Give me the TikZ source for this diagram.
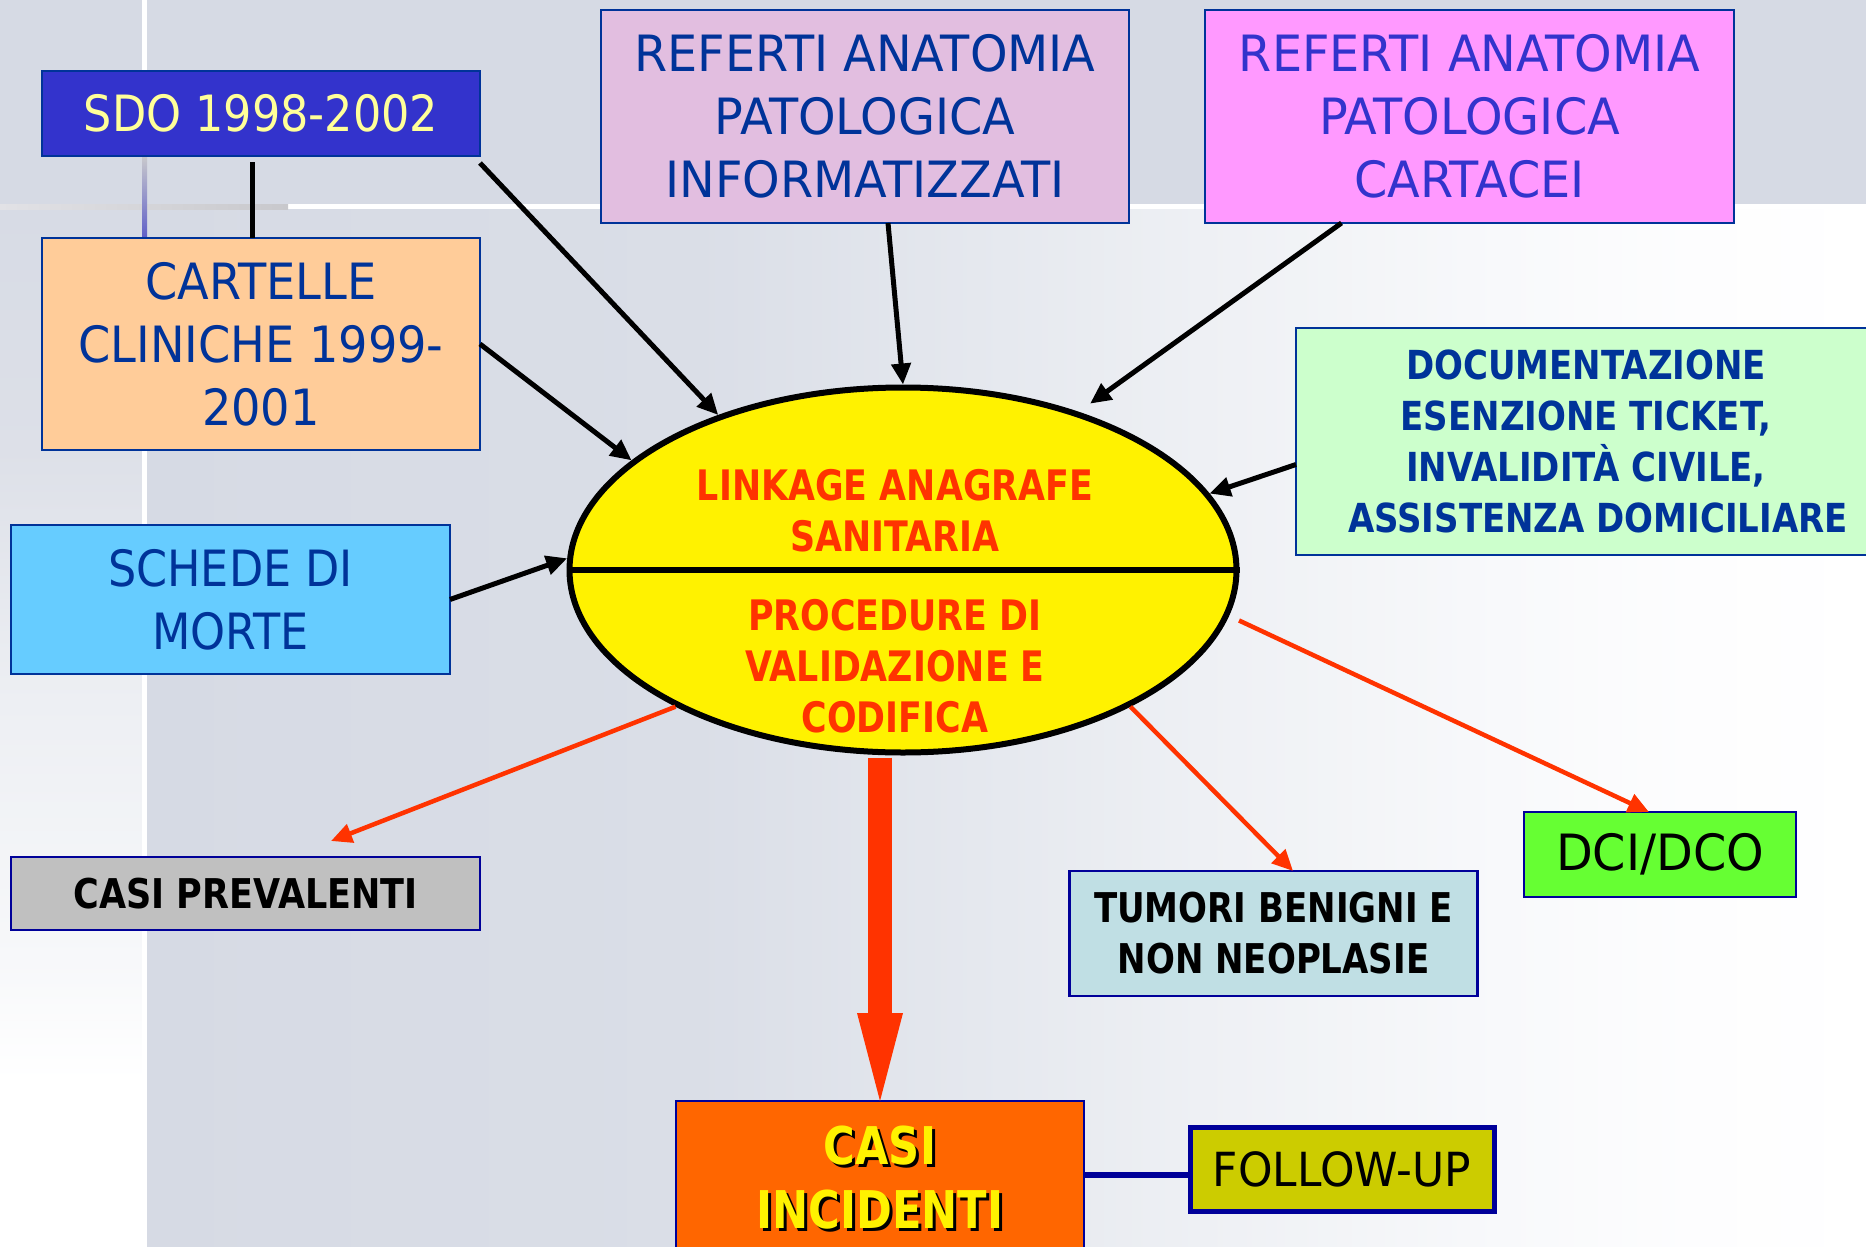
\documentclass[tikz,border=0pt]{standalone}
\usepackage{fontspec}
\setmainfont{DejaVu Sans}
\newfontfamily\fR{DejaVu Sans}[FakeStretch=0.89]
\newfontfamily\fRc{DejaVu Sans}[FakeStretch=0.925]
\newfontfamily\fRr{DejaVu Sans}[FakeStretch=0.955]
\newfontfamily\fRf{DejaVu Sans}[FakeStretch=0.935]
\newfontfamily\fB{DejaVu Sans}[FakeStretch=0.83]
\newfontfamily\fBd{DejaVu Sans}[FakeStretch=0.85]
\newfontfamily\fBp{DejaVu Sans}[FakeStretch=0.855]
\newfontfamily\fC{DejaVu Sans}[FakeStretch=0.83]
\usetikzlibrary{arrows.meta,shapes.geometric}

\definecolor{bgTop}{HTML}{D6DAE4}
\definecolor{bgA}{HTML}{D6DAE4}
\definecolor{bgB}{HTML}{DADEE7}
\definecolor{bgC}{HTML}{E6E9EF}
\definecolor{bgD}{HTML}{EEF0F4}
\definecolor{bgE}{HTML}{F8F9FB}
\definecolor{bgF}{HTML}{FDFDFE}
\definecolor{lbA}{HTML}{F7F8FA}
\definecolor{lbB}{HTML}{EDEFF3}
\definecolor{lbC}{HTML}{DDE0E8}
\definecolor{lbD}{HTML}{D7DBE5}
\definecolor{bordA}{HTML}{003399}
\definecolor{bordB}{HTML}{000099}
\definecolor{cSDO}{HTML}{3333CC}
\definecolor{tSDO}{HTML}{FFFF99}
\definecolor{cCart}{HTML}{FFCC99}
\definecolor{cRinf}{HTML}{E2BEE0}
\definecolor{cRcart}{HTML}{FF99FF}
\definecolor{cDoc}{HTML}{CCFFCC}
\definecolor{cSchede}{HTML}{66CCFF}
\definecolor{cPrev}{HTML}{C0C0C0}
\definecolor{cTum}{HTML}{C0DFE4}
\definecolor{cDci}{HTML}{66FF33}
\definecolor{cInc}{HTML}{FF6600}
\definecolor{cFu}{HTML}{CCCC00}
\definecolor{tBlue}{HTML}{003399}
\definecolor{tPurple}{HTML}{3333CC}
\definecolor{tRed}{HTML}{FF3300}
\definecolor{segGray}{HTML}{C8C8CC}
\definecolor{segLight}{HTML}{E2E2E6}
\definecolor{segBlue}{HTML}{3A3AC8}
\definecolor{segBlue2}{HTML}{6060C8}

\pgfdeclarehorizontalshading{mainbg}{100bp}{color(0bp)=(bgA); color(25bp)=(bgA); color(41bp)=(bgB); color(50bp)=(bgC); color(55.7bp)=(bgD); color(64.4bp)=(bgE); color(70bp)=(bgF); color(75bp)=(white); color(100bp)=(white)}
\pgfdeclareverticalshading{leftbg}{100bp}{color(0bp)=(white); color(33bp)=(white); color(38.8bp)=(lbA); color(51.3bp)=(lbB); color(63.4bp)=(lbC); color(75bp)=(lbD); color(100bp)=(lbD)}

\tikzset{
  box/.style={draw=bordA, line width=2.5pt, inner sep=0pt, outer sep=0pt, align=center},
  lowbox/.style={draw=bordB, line width=2.5pt, inner sep=0pt, outer sep=0pt, align=center},
  regfont/.style={font=\fR\fontsize{50}{63}\selectfont},
  boldfont/.style={font=\fB\bfseries\fontsize{#1}{51}\selectfont},
  blk/.style={draw=black, line width=5pt, -{Triangle[length=21pt,width=19pt]}},
  redarrow/.style={draw=tRed, line width=4.5pt, -{Triangle[length=21pt,width=19pt]}},
  bigarrow/.style={draw=tRed, line width=24pt, -{Triangle[length=88pt,width=46pt,line width=0pt]}},
  etext/.style={text=tRed, align=center, inner sep=0pt, font=\fB\bfseries\fontsize{42}{51}\selectfont}
}

\begin{document}
\begin{tikzpicture}[x=1pt,y=-1pt]
\useasboundingbox (0,0) rectangle (1866,1247);

% background
\fill[bgTop] (0,0) rectangle (1866,206);
\shade[shading=mainbg] (144,209) rectangle (1866,1247);
\shade[shading=leftbg] (0,209) rectangle (142,1247);
\fill[white] (0,204) rectangle (1866,209);
\fill[white] (142,0) rectangle (147,1247);
\shade[left color=segLight, middle color=segBlue, right color=segGray] (0,204) rectangle (288,209);
\shade[top color=segGray, middle color=segBlue, bottom color=segBlue2] (142,157) rectangle (147,237);

% boxes
\node[box, fill=cSDO, text=tSDO, regfont, minimum width=438pt, minimum height=85pt] (sdo) at (261,113.5) {SDO 1998-2002};
\node[box, fill=cCart, text=tBlue, font=\fRc\fontsize{50}{63}\selectfont, minimum width=438pt, minimum height=212pt] (cart) at (261,344) {CARTELLE\\CLINICHE 1999-\\2001};
\node[box, fill=cRinf, text=tBlue, font=\fRr\fontsize{50}{63}\selectfont, minimum width=528pt, minimum height=213pt] (rinf) at (865,116.5) {REFERTI ANATOMIA\\PATOLOGICA\\INFORMATIZZATI};
\node[box, fill=cRcart, text=tPurple, font=\fRr\fontsize{50}{63}\selectfont, minimum width=529pt, minimum height=213pt] (rcart) at (1469.5,116.5) {REFERTI ANATOMIA\\PATOLOGICA\\CARTACEI};
\node[box, fill=cDoc, text=tBlue, font=\fBd\bfseries\fontsize{40}{51}\selectfont, minimum width=580pt, minimum height=227pt] (doc) at (1586,441.5) {DOCUMENTAZIONE\\ESENZIONE TICKET,\\INVALIDITÀ CIVILE,\\\hspace*{24pt}ASSISTENZA DOMICILIARE};
\node[box, fill=cSchede, text=tBlue, regfont, minimum width=439pt, minimum height=149pt] (schede) at (230.5,599.5) {SCHEDE DI\\MORTE};
\node[lowbox, fill=cPrev, text=black, font=\fBp\bfseries\fontsize{41}{51}\selectfont, minimum width=469pt, minimum height=73pt] (cprev) at (245.5,893.5) {CASI PREVALENTI};
\node[lowbox, fill=cTum, text=black, boldfont=41, minimum width=408pt, minimum height=125pt] (tum) at (1273.5,933.5) {TUMORI BENIGNI E\\NON NEOPLASIE};
\node[lowbox, fill=cDci, text=black, font=\fRr\fontsize{50}{60}\selectfont, minimum width=272pt, minimum height=85pt] (dci) at (1660,854.5) {DCI/DCO};
\node[lowbox, fill=cInc, minimum width=408pt, minimum height=153pt] (cinc) at (880,1177.5) {};
\node[text=black, align=center, inner sep=0pt, font=\fC\bfseries\fontsize{52}{64}\selectfont] (cincsh) at ([shift={(3pt,-3pt)}]cinc.center) {CASI\\INCIDENTI};
\node[text=yellow, align=center, inner sep=0pt, font=\fC\bfseries\fontsize{52}{64}\selectfont] (cinct) at (cinc.center) {CASI\\INCIDENTI};
\node[draw=bordB, line width=5pt, fill=cFu, text=black, inner sep=0pt, font=\fRf\fontsize{47}{56}\selectfont, minimum width=304pt, minimum height=84pt] (fu) at (1342,1169) {FOLLOW-UP};

% central ellipse
\node[ellipse, draw=black, line width=6pt, fill=yellow, minimum width=667pt, minimum height=365pt, inner sep=0pt] (ell) at (903,570) {};
\draw[line width=6pt] (ell.west) -- (ell.east);
\node[etext] (ltop) at (895,510.5) {LINKAGE ANAGRAFE\\SANITARIA};
\node[etext] (lbot) at (895,666) {PROCEDURE DI\\VALIDAZIONE E\\CODIFICA};

% connectors
\draw[line width=5pt] ([shift={(-9pt,-6pt)}]sdo.south) -- ([xshift=-9pt]cart.north);
\draw[blk] ([yshift=-7pt]sdo.south east) -- (ell.140);
\draw[blk] (cart.east) -- (ell.158);
\draw[blk] ([xshift=23pt]rinf.south) -- (ell.90);
\draw[blk, shorten >=14pt] ([xshift=-128pt]rcart.south) -- (ell.42);
\draw[blk] ([yshift=-23pt]doc.west) -- (ell.14);
\draw[blk] (schede.east) -- (ell.178);

\draw[redarrow] (ell.211) -- ([shift={(85.5pt,16pt)}]cprev.north);
\draw[redarrow] (ell.329) -- ([xshift=19.5pt]tum.north);
\draw[redarrow, shorten <=11pt] (ell.352) -- ([xshift=-11pt]dci.north);

\coordinate (bigstart) at ([yshift=-2pt]cinc.north |- ell.south);
\draw[bigarrow] (bigstart) -- (cinc.north);

\coordinate (fuL) at ([yshift=-6pt]fu.west);
\draw[line width=5.5pt, draw=bordB] (fuL) -- (fuL -| cinc.east);
\end{tikzpicture}
\end{document}
